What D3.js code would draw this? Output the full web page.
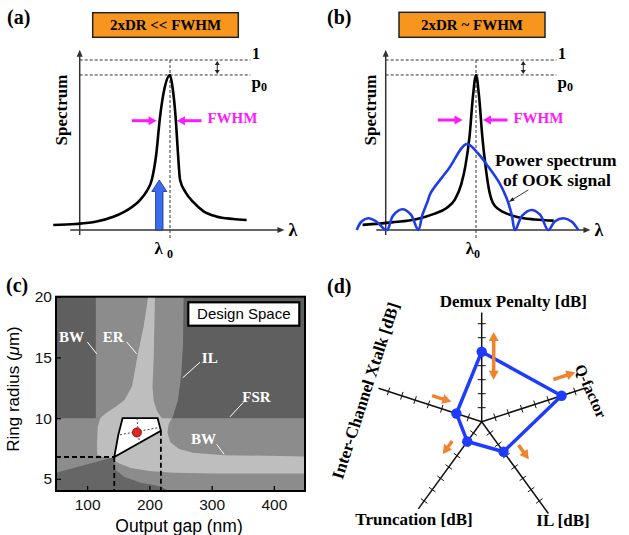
<!DOCTYPE html>
<html>
<head>
<meta charset="utf-8">
<script src="https://cdn.jsdelivr.net/npm/d3@7"></script>
<style>
  body { margin: 0; background: #fff; }
  text { font-family: "Liberation Serif", serif; font-weight: bold; }
  .sans { font-family: "Liberation Sans", Arial, sans-serif; font-weight: normal; }
</style>
</head>
<body>
<div id="chart"></div>
<script>
// ---------- data ----------
// (a), (b): spectra, x = wavelength offset from lambda0 (arb. units), y = normalised power
const levelOne = 1;
const levelP0 = 0.912;
const resonanceA = [[-55.6,0.029],[-45,0.035],[-35,0.05],[-27,0.078],[-20,0.12],[-14.3,0.176],[-11,0.23],
  [-8.7,0.294],[-6.5,0.45],[-4.8,0.66],[-2.5,0.84],[0,0.912],[1.2,0.84],[2.7,0.66],[3.8,0.45],[4.8,0.294],
  [7.5,0.22],[11,0.165],[16,0.11],[22,0.08],[30,0.065],[36.5,0.059]];
const resonanceB = [[-54,0.03],[-40,0.045],[-28,0.065],[-20,0.095],[-14,0.13],[-10,0.18],[-7,0.27],[-5,0.38],
  [-3,0.56],[-1.5,0.78],[0,0.912],[1.5,0.78],[3,0.55],[4.5,0.38],[6,0.25],[8,0.16],[11,0.12],[15,0.095],
  [20,0.075],[28,0.062],[37,0.055]];
const ookSpectrum = [[-56.8,0],[-54.5,0.05],[-51.3,0.069],[-47.5,0.05],[-42.5,0],[-39.5,0.085],[-35,0.122],
  [-31,0.09],[-27.5,0],[-25.5,0.09],[-23,0.17],[-21.5,0.22],[-13,0.36],[-4.4,0.506],[1,0.45],[6,0.37],
  [11,0.28],[14.5,0.19],[17,0.09],[18.6,0],[22,0.085],[26.5,0.118],[30.5,0.09],[34.4,0],[37.5,0.05],
  [41.6,0.069],[45.5,0.05],[48.7,0]];
const pumpLine = {x: -5.1, height: 0.294};

// (c): design space, [output gap (nm), ring radius (um)]
const gapTicks = [100, 200, 300, 400];
const radiusTicks = [5, 10, 15, 20];
const midUpper = [[114,20],[255,20],[254,16],[251,13.5],[246,11.5],[240,10.5],[237,10],[114,10]];
const midLower = [[50,10],[450,10],[450,4],[50,4]];
const lightArea = [[198,20],[209,20],[207,15],[205,12.6],[207,11.4],[212,10.6],[220,10],[236,10],[231,9.5],
  [229,8.8],[234,8],[248,7.45],[270,7.15],[320,6.95],[450,6.85],[450,5.45],[300,5.45],[240,5.5],[200,5.65],
  [170,5.9],[150,6.3],[140,6.7],[125,6.8],[116,7.0],[116,8],[117,9.3],[121,10],
  [130,10.4],[145,10.9],[160,11.5],[172,12.6],[182,15.4],[191,17.6]];
const darkCorner = [[50,4],[50,5.5],[143.6,6.8],[145,5.75],[160,5.15],[185,4.7],[217,4.4],[232,4]];
const designSpace = [[157,10],[213.2,10],[218.5,8.96],[143.6,6.8],[150,8.6]];
const designPoint = [180, 8.82];
const crossV = [[180,10],[184,7.96]];
const crossH = [[152.7,8.63],[215.9,9.23]];
const cornerLow = [143.6, 6.8];
const cornerHigh = [218.5, 8.96];
const cLabels = [
  {t: "BW",  at: [75,16.7],   line: [[100.3,16.27],[115.4,15.3]]},
  {t: "ER",  at: [142,16.7],  line: [[163.6,16.27],[179.6,15.3]]},
  {t: "IL",  at: [297,14.95], line: [[281.3,14.6],[253.5,13.32]]},
  {t: "FSR", at: [372,11.7],  line: [[351,11.3],[329.5,10.11]]},
  {t: "BW",  at: [287,8.27],  line: [[308,7.85],[320,7.02]]}
];

// (d): radar
const radarAxes = ["Demux Penalty [dB]", "Q-factor", "IL [dB]", "Truncation [dB]", "Inter-Channel Xtalk [dB]"];
const radarAngles = [90, 18, -54, -126, 162];
const radarAxisMax = [7.8, 7.8, 8.1, 7.7, 7.75];
const radarTicks = [1, 2, 3, 4, 5, 6, 7];
const radarValues = [5.0, 6.0, 2.65, 1.75, 1.9];
// trend arrows: axis index, from, to (axis units), sideways offset (px)
const radarArrows = [
  {axis: 0, from: 3.0, to: 6.4, off: -12, both: true},
  {axis: 1, from: 5.8, to: 7.45, off: 18},
  {axis: 2, from: 2.9, to: 4.15, off: 16},
  {axis: 3, from: 2.35, to: 3.5, off: -12.5},
  {axis: 4, from: 3.95, to: 2.5, off: -9.5}
];

// ---------- helpers ----------
const svg = d3.select("#chart").append("svg").attr("width", 629).attr("height", 535);

function arrowHead(g, xa, ya, xb, yb, color, hl, hw) {
  const L = Math.hypot(xb - xa, yb - ya), ux = (xb - xa) / L, uy = (yb - ya) / L;
  const bx = xb - ux * hl, by = yb - uy * hl;
  g.append("path")
    .attr("d", `M${xb},${yb}L${bx - uy * hw / 2},${by + ux * hw / 2}L${bx + uy * hw / 2},${by - ux * hw / 2}Z`)
    .attr("fill", color);
}
function arrow(g, xa, ya, xb, yb, o) {
  const L = Math.hypot(xb - xa, yb - ya), ux = (xb - xa) / L, uy = (yb - ya) / L;
  const k = o.hl * 0.8;
  g.append("line")
    .attr("x1", o.both ? xa + ux * k : xa).attr("y1", o.both ? ya + uy * k : ya)
    .attr("x2", xb - ux * k).attr("y2", yb - uy * k)
    .attr("stroke", o.color).attr("stroke-width", o.width);
  arrowHead(g, xa, ya, xb, yb, o.color, o.hl, o.hw);
  if (o.both) arrowHead(g, xb, yb, xa, ya, o.color, o.hl, o.hw);
}

// ---------- panels (a) and (b) ----------
function spectrumPanel(p) {
  const g = svg.append("g");
  const x = d3.scaleLinear().domain([-50, 50]).range([p.center - 105, p.center + 105]);
  const y = d3.scaleLinear().domain([0, 1]).range([230, 60]);

  g.append("text").attr("x", p.letterX).attr("y", 24).attr("font-size", 20).text(p.letter);

  g.append("rect").attr("x", p.box[0]).attr("y", p.box[1]).attr("width", p.box[2]).attr("height", p.box[3])
    .attr("fill", "#f7961f").attr("stroke", "#222").attr("stroke-width", 1.5);
  g.append("text").attr("x", p.box[0] + p.box[2] / 2).attr("y", p.box[1] + p.box[3] / 2 + 5)
    .attr("text-anchor", "middle").attr("font-size", 15).text(p.title);

  // dashed guide lines
  [levelOne, levelP0].forEach(v => {
    g.append("line").attr("x1", x(-43)).attr("x2", x(38.3)).attr("y1", y(v)).attr("y2", y(v))
      .attr("stroke", "#333").attr("stroke-width", 1).attr("stroke-dasharray", "3,2");
  });
  g.append("line").attr("x1", x(0)).attr("x2", x(0)).attr("y1", y(1)).attr("y2", y(-0.06))
    .attr("stroke", "#333").attr("stroke-width", 1).attr("stroke-dasharray", "3,2");
  arrow(g, x(22.5), y(1) + 1, x(22.5), y(levelP0) - 1, {color: "#222", width: 1, hl: 4, hw: 5, both: true});

  // axes
  arrow(g, x(-43), y(0) + 5, x(-43), y(1.06), {color: "#333", width: 1.5, hl: 7, hw: 6});
  arrow(g, x(-47.5), y(0), x(54.5), y(0), {color: "#333", width: 1.5, hl: 7, hw: 6});

  g.append("text").attr("font-size", 17).attr("text-anchor", "middle")
    .attr("transform", `translate(${p.specX},110) rotate(-90)`).text("Spectrum");
  g.append("text").attr("x", x(58.5)).attr("y", 236).attr("font-size", 18).attr("text-anchor", "middle").text("λ");

  const l0 = g.append("text").attr("x", x(p.l0x)).attr("y", 254).attr("font-size", 17).attr("text-anchor", "middle");
  l0.append("tspan").text("λ");
  l0.append("tspan").attr("dx", p.subGap).attr("dy", 4).attr("font-size", 12).text("0");

  g.append("text").attr("x", x(39)).attr("y", 59).attr("font-size", 16).text("1");
  const pt = g.append("text").attr("x", x(38.8)).attr("y", 88).attr("font-size", 17);
  pt.append("tspan").text("p");
  pt.append("tspan").attr("dy", 3).attr("font-size", 12).text("0");

  // FWHM arrows
  const fy = y(p.fwhmY);
  arrow(g, x(-18.2), fy, x(-6.4), fy, {color: "#ff19ff", width: 3, hl: 8, hw: 9});
  arrow(g, x(15), fy, x(3.3), fy, {color: "#ff19ff", width: 3, hl: 8, hw: 9});
  g.append("text").attr("x", x(17.8)).attr("y", fy + 2.5).attr("font-size", 15).attr("fill", "#ff19ff").text("FWHM");

  const line = d3.line().x(d => x(d[0])).y(d => y(d[1])).curve(d3.curveMonotoneX);
  g.append("path").datum(p.curve).attr("d", line).attr("fill", "none").attr("stroke", "#000").attr("stroke-width", 2.6);
  return {g, x, y};
}

const pa = spectrumPanel({letter: "(a)", letterX: 7, center: 170, box: [92.7, 12.7, 145.6, 24.6],
  title: "2xDR << FWHM", specX: 67, l0x: -3, subGap: 4, fwhmY: 0.643, curve: resonanceA});

// pump signal arrow in (a)
{
  const {g, x, y} = pa;
  const cx = x(pumpLine.x), top = y(pumpLine.height), head = 11.5;
  g.append("path")
    .attr("d", `M${cx - 3.7},${y(0)}L${cx - 3.7},${top + head}L${cx - 7.5},${top + head}L${cx},${top}` +
      `L${cx + 7.5},${top + head}L${cx + 3.7},${top + head}L${cx + 3.7},${y(0)}Z`)
    .attr("fill", "#3a6cf0").attr("stroke", "#1a2a80").attr("stroke-width", 0.8);
}

const pb = spectrumPanel({letter: "(b)", letterX: 327, center: 476, box: [399, 12.3, 146, 25],
  title: "2xDR ~ FWHM", specX: 376, l0x: -1.5, subGap: 0, fwhmY: 0.647, curve: resonanceB});

{
  const {g, x, y} = pb;
  const line = d3.line().x(d => x(d[0])).y(d => y(d[1])).curve(d3.curveCatmullRom.alpha(0.5));
  g.append("path").datum(ookSpectrum).attr("d", line).attr("fill", "none")
    .attr("stroke", "#1f3de6").attr("stroke-width", 2.6);
  g.append("text").attr("x", 495).attr("y", 166).attr("font-size", 17.5).text("Power spectrum");
  g.append("text").attr("x", 503).attr("y", 186).attr("font-size", 17.5).text("of OOK signal");
  arrow(g, 528.3, 190, 508.5, 202, {color: "#222", width: 0.9, hl: 6, hw: 4});
}

// ---------- panel (c) ----------
{
  const g = svg.append("g");
  const x = d3.scaleLinear().domain([50, 450]).range([56, 305]);
  const y = d3.scaleLinear().domain([4, 20]).range([491, 296.7]);
  const poly = d3.line().x(d => x(d[0])).y(d => y(d[1]));

  g.append("defs").append("clipPath").attr("id", "cclip").append("rect")
    .attr("x", x(50)).attr("y", y(20)).attr("width", x(450) - x(50)).attr("height", y(4) - y(20));
  const area = g.append("g").attr("clip-path", "url(#cclip)");
  area.append("rect").attr("x", x(50)).attr("y", y(20)).attr("width", x(450) - x(50))
    .attr("height", y(4) - y(20)).attr("fill", "#5f5f5f");
  [[midUpper, "#8c8c8c"], [midLower, "#8c8c8c"], [lightArea, "#bebebe"], [darkCorner, "#666"]].forEach(([pts, c]) => {
    area.append("path").attr("d", poly(pts) + "Z").attr("fill", c);
  });

  // dashed guides to the design space corners
  const dl = (a, b) => {
    g.append("line").attr("x1", x(a[0])).attr("y1", y(a[1])).attr("x2", x(b[0])).attr("y2", y(b[1]))
      .attr("stroke", "#000").attr("stroke-width", 1.8).attr("stroke-dasharray", "5,3");
  };
  dl([50, cornerLow[1]], cornerLow);
  dl(cornerLow, [cornerLow[0], 4]);
  dl(cornerHigh, [cornerHigh[0], 4]);

  g.append("path").attr("d", poly(designSpace) + "Z").attr("fill", "#fff").attr("stroke", "#000").attr("stroke-width", 1.8);
  [crossV, crossH].forEach(c => {
    g.append("path").attr("d", poly(c)).attr("stroke", "#444").attr("stroke-width", 1).attr("stroke-dasharray", "2,2").attr("fill", "none");
  });
  g.append("circle").attr("cx", x(designPoint[0])).attr("cy", y(designPoint[1])).attr("r", 4.5)
    .attr("fill", "#e8251d").attr("stroke", "#600").attr("stroke-width", 0.8);

  cLabels.forEach(d => {
    g.append("path").attr("d", poly(d.line)).attr("stroke", "#fff").attr("stroke-width", 1).attr("fill", "none");
    g.append("text").attr("x", x(d.at[0])).attr("y", y(d.at[1]) + 5).attr("text-anchor", "middle")
      .attr("font-size", 15).attr("fill", "#fff").text(d.t);
  });

  // legend box
  g.append("rect").attr("x", 188.3).attr("y", 302.3).attr("width", 111).attr("height", 23.4)
    .attr("fill", "#fff").attr("stroke", "#000").attr("stroke-width", 2.2);
  g.append("text").attr("class", "sans").attr("x", 243.8).attr("y", 319.3).attr("text-anchor", "middle")
    .attr("font-size", 15).text("Design Space");

  g.append("rect").attr("x", x(50)).attr("y", y(20)).attr("width", x(450) - x(50)).attr("height", y(4) - y(20))
    .attr("fill", "none").attr("stroke", "#000").attr("stroke-width", 2);

  const ax = g.append("g").attr("transform", `translate(0,${y(4)})`)
    .call(d3.axisBottom(x).tickValues(gapTicks).tickSizeInner(-5).tickSizeOuter(0).tickPadding(8));
  const ay = g.append("g").attr("transform", `translate(${x(50)},0)`)
    .call(d3.axisLeft(y).tickValues(radiusTicks).tickSizeInner(-5).tickSizeOuter(0).tickPadding(4));
  [ax, ay].forEach(a => {
    a.select(".domain").remove();
    a.selectAll("line").attr("stroke", "#000").attr("stroke-width", 1.3);
    a.selectAll("text").attr("class", "sans").attr("font-size", 15.5).attr("fill", "#111");
  });

  g.append("text").attr("class", "sans").attr("x", 179).attr("y", 532).attr("text-anchor", "middle")
    .attr("font-size", 17.5).text("Output gap (nm)");
  const yl = g.append("text").attr("class", "sans").attr("text-anchor", "middle").attr("font-size", 17)
    .attr("transform", "translate(19,389) rotate(-90)");
  yl.append("tspan").text("Ring radius (");
  yl.append("tspan").attr("font-style", "italic").text("μ");
  yl.append("tspan").text("m)");

  g.append("text").attr("x", 6).attr("y", 292).attr("font-size", 20).text("(c)");
}

// ---------- panel (d) ----------
{
  const g = svg.append("g");
  const c = {x: 481.7, y: 421.7};
  const r = d3.scaleLinear().domain([0, 8]).range([0, 112]);
  const pos = (i, v, off = 0) => {
    const a = radarAngles[i] * Math.PI / 180;
    return [c.x + r(v) * Math.cos(a) - off * Math.sin(a), c.y - r(v) * Math.sin(a) - off * Math.cos(a)];
  };

  g.append("text").attr("x", 327).attr("y", 293).attr("font-size", 20).text("(d)");

  radarAxes.forEach((name, i) => {
    const e = pos(i, radarAxisMax[i]);
    g.append("line").attr("x1", c.x).attr("y1", c.y).attr("x2", e[0]).attr("y2", e[1])
      .attr("stroke", "#111").attr("stroke-width", 1.5);
    radarTicks.forEach(t => {
      const a = pos(i, t, -4), b = pos(i, t, 4);
      g.append("line").attr("x1", a[0]).attr("y1", a[1]).attr("x2", b[0]).attr("y2", b[1])
        .attr("stroke", "#111").attr("stroke-width", 1);
    });
  });

  const pts = radarValues.map((v, i) => pos(i, v));
  g.append("path").attr("d", d3.line()(pts) + "Z").attr("fill", "none").attr("stroke", "#1f3bff")
    .attr("stroke-width", 3.5).attr("stroke-linejoin", "round");
  g.selectAll(".vtx").data(pts).enter().append("circle")
    .attr("cx", d => d[0]).attr("cy", d => d[1]).attr("r", 5.2).attr("fill", "#1f3bff");

  radarArrows.forEach(d => {
    const a = pos(d.axis, d.from, d.off), b = pos(d.axis, d.to, d.off);
    arrow(g, a[0], a[1], b[0], b[1], {color: "#f0832e", width: 3.5, hl: 9, hw: 10, both: !!d.both});
  });

  const lab = [
    {i: 0, at: [513.3, 307], rot: 0, size: 17, base: "auto"},
    {i: 1, at: [591, 391], rot: 66, size: 15.5, base: "central"},
    {i: 2, at: [563, 526], rot: 0, size: 17, base: "auto"},
    {i: 3, at: [414, 525], rot: 0, size: 17, base: "auto"},
    {i: 4, at: [365.7, 390.7], rot: -72, size: 17, base: "central"}
  ];
  lab.forEach(l => {
    g.append("text").attr("transform", `translate(${l.at[0]},${l.at[1]}) rotate(${l.rot})`)
      .attr("text-anchor", "middle").attr("dominant-baseline", l.base).attr("font-size", l.size)
      .text(radarAxes[l.i]);
  });
}
</script>
</body>
</html>
